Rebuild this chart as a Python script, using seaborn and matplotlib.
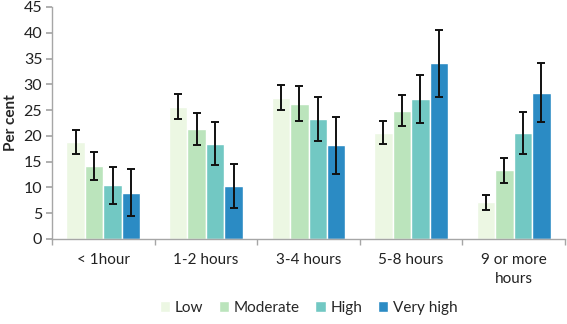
import numpy as np
import pandas as pd
import matplotlib
matplotlib.use("Agg")
import matplotlib.pyplot as plt
import seaborn as sns

# categories and series
categories = ["< 1hour", "1-2 hours", "3-4 hours", "5-8 hours", "9 or more\nhours"]
levels = ["Low", "Moderate", "High", "Very high"]

low = [18.8, 25.7, 27.4, 20.6, 7.1]
moderate = [14.2, 21.4, 26.2, 24.9, 13.3]
high = [10.4, 18.5, 23.3, 27.2, 20.6]
very_high = [9.0, 10.3, 18.2, 34.1, 28.4]

low_err = [2.3, 2.4, 2.4, 2.2, 1.4]
moderate_err = [2.7, 3.1, 3.4, 3.0, 2.5]
high_err = [3.6, 4.1, 4.2, 4.7, 4.1]
very_high_err = [4.6, 4.2, 5.5, 6.5, 5.8]

colors = ["#ECF7E3", "#BBE4BC", "#72C8C3", "#2B8BC4"]

sns.set_theme(style="white")
plt.rcParams['font.family'] = ['Lato', 'DejaVu Sans']

values = [low, moderate, high, very_high]
errors = [low_err, moderate_err, high_err, very_high_err]
rows = []
for lev, vals, errs in zip(levels, values, errors):
    for cat, v, e in zip(categories, vals, errs):
        rows.append({"cat": cat, "level": lev, "value": v, "err": e})
df = pd.DataFrame(rows)

fig, ax = plt.subplots(figsize=(5.67, 3.24), dpi=100)
fig.subplots_adjust(left=52 / 567, right=565 / 567, top=1 - 7 / 324, bottom=1 - 239 / 324)

sns.barplot(data=df, x="cat", y="value", hue="level", order=categories,
            hue_order=levels, palette=colors, width=0.72, errorbar=None,
            saturation=1, ax=ax)

# error bars on each bar
for cont, lev in zip(ax.containers, levels):
    sub = df[df["level"] == lev].set_index("cat").loc[categories]
    xs = [b.get_x() + b.get_width() / 2 for b in cont]
    ax.errorbar(xs, sub["value"], yerr=sub["err"], fmt="none", ecolor="#111111",
                elinewidth=1.4, capsize=3, capthick=1.4)

ax.set_ylim(0, 45)
ax.set_yticks(np.arange(0, 46, 5))
ax.set_xlim(-0.5, len(categories) - 0.5)
ax.set_xlabel("")
ax.set_ylabel("Per cent", fontsize=11, fontweight="bold", labelpad=4)

for s in ["top", "right"]:
    ax.spines[s].set_visible(False)
for s in ["left", "bottom"]:
    ax.spines[s].set_color("#A6A6A6")
    ax.spines[s].set_linewidth(1)

ax.tick_params(axis="y", labelsize=11.5, length=4, color="#A6A6A6", left=True, pad=3, labelcolor="#222222")
ax.tick_params(axis="x", which="major", labelsize=11, length=0, pad=10, labelcolor="#222222")
for lab in ax.get_xticklabels():
    lab.set_linespacing(1.5)
ax.set_xticks(np.arange(-0.5, len(categories), 1), minor=True)
ax.tick_params(axis="x", which="minor", length=4, color="#A6A6A6", bottom=True)

sns.move_legend(ax, "lower center", bbox_to_anchor=(0.5, -0.385), ncol=4,
                frameon=False, title=None, fontsize=11, handlelength=0.7,
                handleheight=0.7, columnspacing=1.0, handletextpad=0.3)

fig.savefig("out.png", dpi=100)
